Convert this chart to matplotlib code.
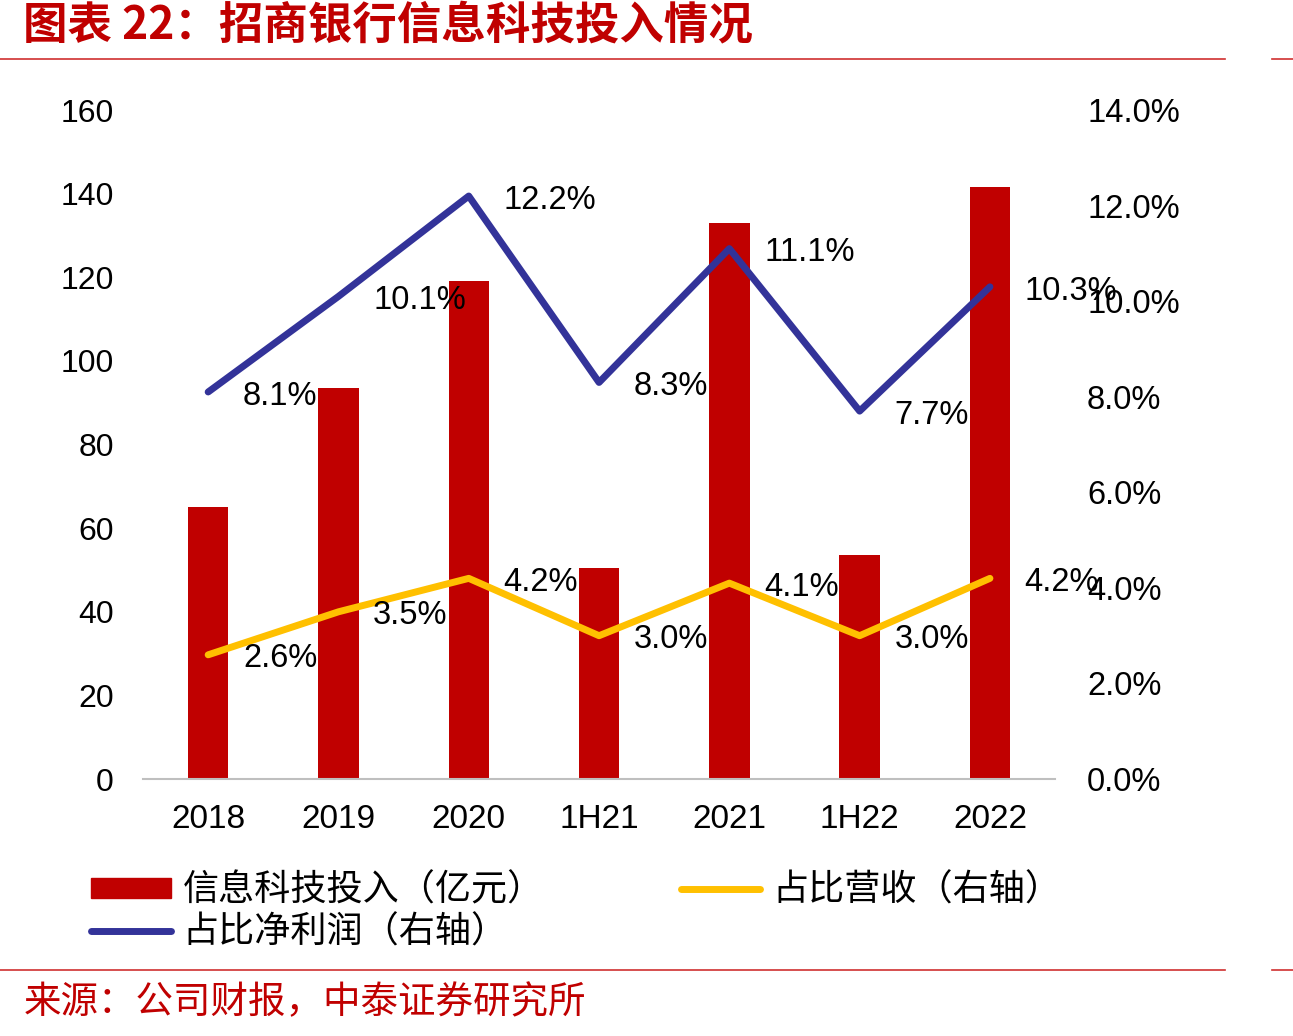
import matplotlib
matplotlib.use('Agg')
import matplotlib.pyplot as plt
from matplotlib.lines import Line2D
from matplotlib.patches import Patch
import numpy as np

categories = ['2018', '2019', '2020', '1H21', '2021', '1H22', '2022']
invest = [65, 93.5, 119, 50.5, 133, 53.5, 141.7]
profit_ratio = [8.1, 10.1, 12.2, 8.3, 11.1, 7.7, 10.3]
revenue_ratio = [2.6, 3.5, 4.2, 3.0, 4.1, 3.0, 4.2]

red = '#C00000'
blue = '#333399'
yellow = '#FFC000'

plt.rcParams['font.family'] = ['Liberation Sans', 'Noto Sans CJK SC', 'DejaVu Sans']
cjk = ['Noto Sans CJK SC', 'DejaVu Sans']

fig = plt.figure(figsize=(12.93, 10.36), dpi=100)
ax = fig.add_axes([0.1106, 0.248, 0.7054, 0.6458])
x = np.arange(len(categories))
ax.bar(x, invest, width=0.31, color=red, zorder=1)
ax.set_xlim(-0.5, 6.5)
ax.set_ylim(0, 160)
ax.set_yticks(range(0, 161, 20))
ax.set_xticks(x)
ax.set_xticklabels(categories)
ax.tick_params(axis='y', length=0, labelsize=23, pad=21)
ax.tick_params(axis='x', length=0, labelsize=24, pad=18)
for s in ['top', 'right', 'left']:
    ax.spines[s].set_visible(False)
ax.spines['bottom'].set_color('#BFBFBF')
ax.spines['bottom'].set_linewidth(1.5)

ax2 = ax.twinx()
ax2.set_ylim(0, 14)
ax2.set_yticks(range(0, 15, 2))
ax2.set_yticklabels(['%.1f%%' % v for v in range(0, 15, 2)])
ax2.tick_params(axis='y', length=0, labelsize=23.5, pad=23)
for s in ['top', 'right', 'left', 'bottom']:
    ax2.spines[s].set_visible(False)
ax2.plot(x, profit_ratio, color=blue, lw=5, solid_capstyle='round', zorder=3)
ax2.plot(x, revenue_ratio, color=yellow, lw=5, solid_capstyle='round', zorder=3)
for xi, v in zip(x, profit_ratio):
    ax2.annotate('%.1f%%' % v, (xi, v), xytext=(25, -3), textcoords='offset points',
                 ha='left', va='center', fontsize=23.5, zorder=4)
for xi, v in zip(x, revenue_ratio):
    ax2.annotate('%.1f%%' % v, (xi, v), xytext=(25, -3), textcoords='offset points',
                 ha='left', va='center', fontsize=23.5, zorder=4)

handles = [Patch(color=red), Line2D([], [], color=blue, lw=5, solid_capstyle='round'),
           Line2D([], [], color=yellow, lw=5, solid_capstyle='round')]
labels = ['信息科技投入（亿元）', '占比净利润（右轴）', '占比营收（右轴）']
fig.legend(handles, labels, loc='upper left', bbox_to_anchor=(0.0565, 0.175),
           ncol=2, frameon=False, prop={'family': cjk, 'size': 26},
           handlelength=2.2, handleheight=0.5, handletextpad=0.33,
           columnspacing=3.8, labelspacing=0.16, borderpad=0)

# title, separators, source
fig.text(0.018, 0.975, '图表 22：招商银行信息科技投入情况', color=red, fontsize=32,
         fontweight='bold', family=cjk, va='center', ha='left')
for yy in [1 - 59 / 1036, 1 - 970 / 1036]:
    fig.add_artist(Line2D([0, 1225 / 1293], [yy, yy], color='#D03030', lw=1.2))
    fig.add_artist(Line2D([1272 / 1293, 1], [yy, yy], color='#D03030', lw=1.2))
fig.text(0.018, 1 - 1003 / 1036, '来源：公司财报，中泰证券研究所', color=red, fontsize=27,
         family=cjk, va='center', ha='left')

fig.savefig('out.png', dpi=100)
